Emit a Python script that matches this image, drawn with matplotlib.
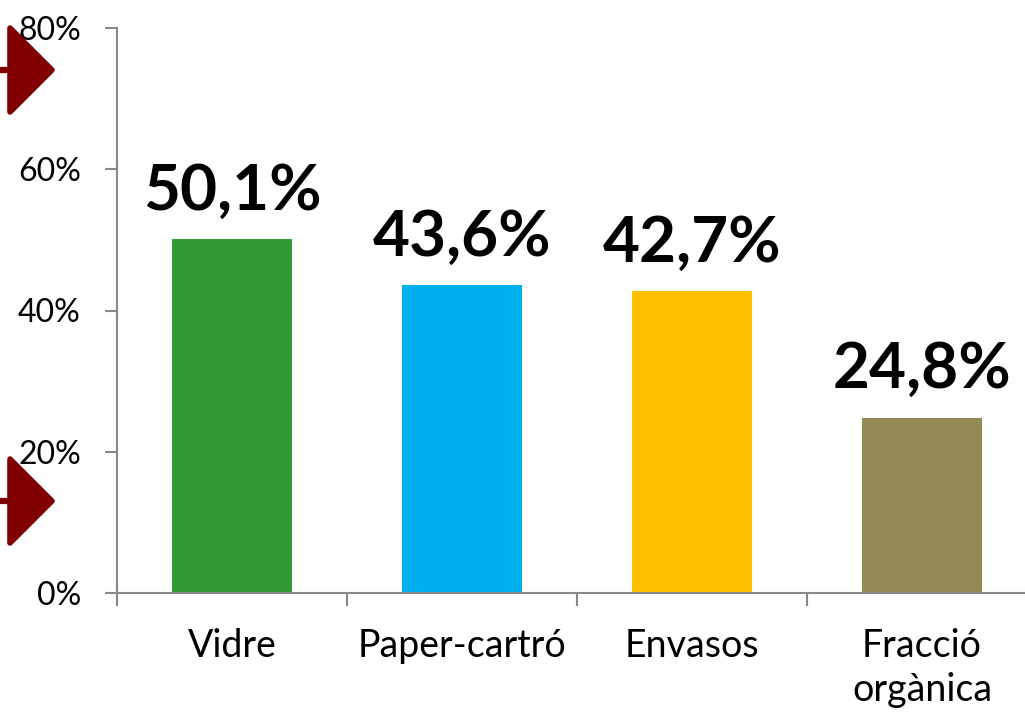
import matplotlib.pyplot as plt
from matplotlib.patches import Polygon
from matplotlib.ticker import FuncFormatter

categories = ['Vidre', 'Paper-cartró', 'Envasos', 'Fracció\norgànica']
values = [50.1, 43.6, 42.7, 24.8]
value_labels = ['50,1%', '43,6%', '42,7%', '24,8%']
colors = ['#339933', '#00B0F0', '#FFC000', '#948A54']

W, H = 1025, 713
plt.rcParams['font.family'] = ['Lato', 'DejaVu Sans']

fig = plt.figure(figsize=(W / 100, H / 100), dpi=100)
ax = fig.add_axes([117 / W, (H - 593) / H, 920 / W, 565 / H])

bars = ax.bar(range(len(values)), values, width=120 / 230, color=colors)
ax.set_xlim(-0.5, 3.5)
ax.set_ylim(0, 80)
ax.set_yticks([0, 20, 40, 60, 80])
ax.yaxis.set_major_formatter(FuncFormatter(lambda v, p: '%d%%' % v))
ax.set_xticks([-0.5, 0.5, 1.5, 2.5, 3.5], minor=False)
ax.set_xticklabels([])
ax.set_xticks(range(len(categories)), minor=True)
ax.set_xticklabels(categories, minor=True, fontsize=27, linespacing=1.3)

for s in ['top', 'right']:
    ax.spines[s].set_visible(False)
for s in ['left', 'bottom']:
    ax.spines[s].set_color('#888888')
    ax.spines[s].set_linewidth(1.5)

ax.tick_params(axis='y', length=9, width=1.5, color='#888888', labelsize=23, pad=17)
ax.tick_params(axis='x', which='major', length=9, width=1.5, color='#888888', direction='out')
ax.tick_params(axis='x', which='minor', length=0, pad=25)

for b, lab in zip(bars, value_labels):
    ax.annotate(lab, xy=(b.get_x() + b.get_width() / 2, b.get_height()), xytext=(0, 14),
                textcoords='offset points', ha='center', va='bottom',
                fontsize=46, fontweight='bold')


# red arrow markers on the left edge
def px(x, y):
    return (x / W, 1 - y / H)


for cy in [70, 501]:
    tri = Polygon([px(10, cy - 42), px(52, cy), px(10, cy + 42)], closed=True,
                  transform=fig.transFigure, facecolor='#800000', edgecolor='#800000',
                  linewidth=4, joinstyle='round')
    fig.patches.append(tri)
    fig.add_artist(plt.Line2D([0, 10 / W], [1 - cy / H] * 2, color='#800000',
                              linewidth=4.5, transform=fig.transFigure))

fig.savefig('out.png', dpi=100)
